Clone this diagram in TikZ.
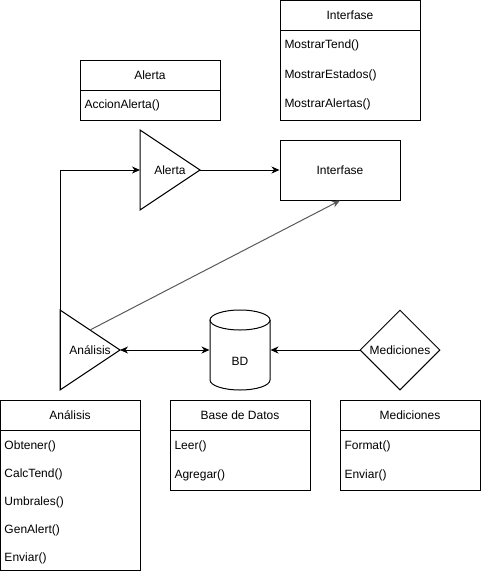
\documentclass[tikz,border=0pt]{standalone}
\usepackage{fontspec}
\setmainfont{Liberation Sans}
\usepackage{tikz}
\usetikzlibrary{arrows.meta,shapes.geometric,calc}
\definecolor{edgegray}{HTML}{595959}

\begin{document}
\begin{tikzpicture}[x=1pt,y=-1pt,>={Stealth[length=8pt,width=7pt,inset=2.5pt]},
                    line width=1pt,font=\fontsize{12pt}{14pt}\selectfont]
  \tikzstyle{classbox}=[draw,minimum width=140pt,inner sep=0pt]
  \tikzstyle{hdr}=[inner sep=0pt]
  \tikzstyle{item}=[anchor=west,inner sep=0pt]
  \useasboundingbox (0,0) rectangle (481,571);

  % class boxes
  \node[classbox,minimum height=120pt] (ifaceC) at (350,60) {};
  \node[hdr]  (ifaceH)  at (350,15)  {Interfase};
  \draw (280,30) -- (420,30);
  \node[item] (ifaceI1) at (284,45)  {MostrarTend()};
  \node[item] (ifaceI2) at (284,75)  {MostrarEstados()};
  \node[item] (ifaceI3) at (284,104) {MostrarAlertas()};

  \node[classbox,minimum height=60pt] (alertaC) at (150,90) {};
  \node[hdr]  (alertaH)  at (150,75)  {Alerta};
  \draw (80,90) -- (220,90);
  \node[item] (alertaI1) at (84,105) {AccionAlerta()};

  \node[classbox,minimum height=170pt] (analisisC) at (70,485) {};
  \node[hdr]  (analisisH)  at (70,415) {Análisis};
  \draw (0,430) -- (140,430);
  \node[item] (analisisI1) at (4,446) {Obtener()};
  \node[item] (analisisI2) at (4,474) {CalcTend()};
  \node[item] (analisisI3) at (4,502) {Umbrales()};
  \node[item] (analisisI4) at (4,530) {GenAlert()};
  \node[item] (analisisI5) at (4,558) {Enviar()};

  \node[classbox,minimum height=90pt] (bdC) at (240,445) {};
  \node[hdr]  (bdH)  at (240,415) {Base de Datos};
  \draw (170,430) -- (310,430);
  \node[item] (bdI1) at (174,446) {Leer()};
  \node[item] (bdI2) at (174,475) {Agregar()};

  \node[classbox,minimum height=90pt] (medC) at (410,445) {};
  \node[hdr]  (medH)  at (410,415) {Mediciones};
  \draw (340,430) -- (480,430);
  \node[item] (medI1) at (344,446) {Format()};
  \node[item] (medI2) at (344,475) {Enviar()};

  % components
  \coordinate (alN) at (140,130);
  \coordinate (alS) at (140,210);
  \coordinate (alE) at (200,170);
  \draw (alN) -- (alE) -- (alS) -- cycle;
  \node (alerta) at (170,170) {Alerta};

  \coordinate (anN) at (60,310);
  \coordinate (anS) at (60,390);
  \coordinate (anE) at (120,350);
  \draw (anN) -- (anE) -- (anS) -- cycle;
  \node (analisis) at (90,350) {Análisis};

  \node[draw,minimum width=120pt,minimum height=60pt] (iface) at (340,170) {Interfase};

  \node[inner sep=0pt,minimum width=60pt,minimum height=80pt] (bd) at (240,350) {};
  \draw (240,320) ellipse [x radius=30,y radius=10];
  \draw (210,320) -- (210,380) arc [start angle=180,end angle=0,x radius=30,y radius=10] -- (270,320);
  \node (bdL) at (240,361) {BD};

  \node[diamond,draw,minimum width=80pt,minimum height=80pt,inner sep=0pt] (medD) at (400,350) {Mediciones};

  % connectors
  \draw[->] (anS) |- ($(alN)!0.5!(alS)$);
  \draw[->] (alE) -- (iface.west);
  \draw[->,edgegray] ($(anN)!0.5!(anE)$) -- (iface.south);
  \draw[<->] (anE) -- (bd.west);
  \draw[->] (medD.west) -- (bd.east);
\end{tikzpicture}
\end{document}
